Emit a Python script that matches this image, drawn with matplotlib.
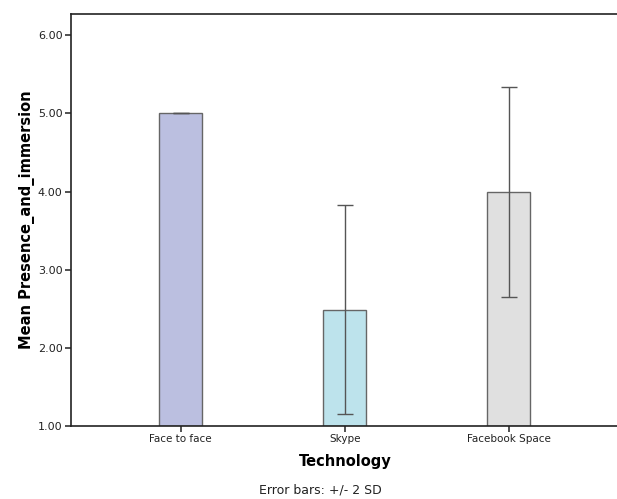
import numpy as np
import matplotlib.pyplot as plt

# mean presence/immersion per technology, error bars = 2 SD
technologies = ['Face to face', 'Skype', 'Facebook Space']
means = [5.00, 2.49, 3.99]
two_sd = [0.00, 1.34, 1.34]
colors = ['#bbbfe0', '#bde3ec', '#e0e0e0']

fig = plt.figure(figsize=(6.17, 4.99), dpi=100)
ax = fig.add_axes([0.115, 0.146, 0.89, 0.826])

x = np.arange(len(technologies))
ax.bar(x, [m - 1 for m in means], bottom=1, width=0.26, color=colors,
       edgecolor='#666666', linewidth=1.0, zorder=2)
ax.errorbar(x, means, yerr=two_sd, fmt='none', ecolor='#555555',
            elinewidth=1.0, capsize=6, capthick=1.0, zorder=3)

ax.set_xlim(-0.67, 2.68)
ax.set_ylim(1, 6.27)
ax.set_yticks([1, 2, 3, 4, 5, 6])
ax.set_yticklabels(['%.2f' % v for v in [1, 2, 3, 4, 5, 6]])
ax.set_xticks(x)
ax.set_xticklabels(technologies)
ax.tick_params(axis='both', direction='out', length=4, width=1.2,
               color='#333333', labelcolor='#222222', pad=2)
ax.tick_params(axis='x', labelsize=7.5)
ax.tick_params(axis='y', labelsize=8)

for side in ['left', 'bottom', 'top']:
    ax.spines[side].set_color('#222222')
    ax.spines[side].set_linewidth(1.2)
ax.spines['right'].set_visible(False)

ax.set_xlabel('Technology', fontsize=10.5, fontweight='bold', labelpad=7)
ax.set_ylabel('Mean Presence_and_immersion', fontsize=10.5, fontweight='bold', labelpad=2)

fig.text(0.52, 0.012, 'Error bars: +/- 2 SD', ha='center', fontsize=9, color='#222222')

fig.savefig('out.png', dpi=100)
